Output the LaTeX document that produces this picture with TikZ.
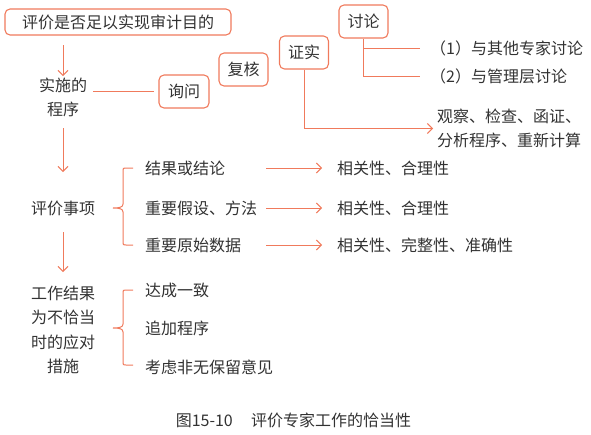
\documentclass[tikz,border=0pt]{standalone}
\usepackage{fontspec}
\setmainfont{Noto Sans CJK SC}
\usetikzlibrary{arrows.meta}
\definecolor{org}{RGB}{240,122,92}
\definecolor{txt}{RGB}{50,50,50}
\begin{document}
\begin{tikzpicture}[x=1pt,y=-1pt,
  box/.style={draw=org,line width=1.1pt,rounded corners=5pt,inner sep=0pt,minimum height=33pt,text=txt,font=\fontsize{16}{18}\selectfont},
  lbl/.style={text=txt,font=\fontsize{16}{24.5}\selectfont,inner sep=0pt},
  ln/.style={draw=org,line width=1pt},
  arr/.style={ln,-{Straight Barb[length=5pt,width=10pt]}}]
\useasboundingbox (0,0) rectangle (591,434);
% boxes
\node[box,minimum width=226pt,minimum height=26pt] (goal) at (118,22) {评价是否足以实现审计目的};
\node[box,minimum width=50pt] (xw) at (184,91.5) {询问};
\node[box,minimum width=49pt] (fh) at (243.5,69.5) {复核};
\node[box,minimum width=49pt] (zs) at (304,52.5) {证实};
\node[box,minimum width=49pt] (tl) at (363.5,21.5) {讨论};
% left column
\node[lbl,align=center] (ss) at (63,97.5) {实施的\\程序};
\node[lbl] (pj) at (63,208) {评价事项};
\node[lbl,align=center] (gz) at (63,330) {工作结果\\为不恰当\\时的应对\\措施};
% right texts
\node[lbl,anchor=west] (t1) at (430,48) {（1）与其他专家讨论};
\node[lbl,anchor=west] (t2) at (430,76) {（2）与管理层讨论};
\node[lbl,anchor=west,align=left] (gc) at (437,128.5) {观察、检查、函证、\\分析程序、重新计算};
\node[lbl,anchor=west] (r1) at (145,168) {结果或结论};
\node[lbl,anchor=west] (r2) at (145,208) {重要假设、方法};
\node[lbl,anchor=west] (r3) at (145,245) {重要原始数据};
\node[lbl,anchor=west] (a1) at (337,168) {相关性、合理性};
\node[lbl,anchor=west] (a2) at (337,208) {相关性、合理性};
\node[lbl,anchor=west] (a3) at (337,245) {相关性、完整性、准确性};
\node[lbl,anchor=west] (c1) at (145,290) {达成一致};
\node[lbl,anchor=west] (c2) at (145,328) {追加程序};
\node[lbl,anchor=west] (c3) at (145,367) {考虑非无保留意见};
\node[lbl] (cap) at (293.5,420) {图15-10\hspace{1.15em}评价专家工作的恰当性};
% arrow end points of the left column
\coordinate (v1s) at (63,45);
\coordinate (v1e) at (63,76);
\coordinate (v2s) at (63,128);
\coordinate (v2e) at (63,172);
\coordinate (v3s) at (63,232);
\coordinate (v3e) at (63,272);
% connectors
\draw[arr] (v1s) -- (v1e);
\draw[arr] (v2s) -- (v2e);
\draw[arr] (v3s) -- (v3e);
\draw[ln,shorten <=6pt,shorten >=4pt] (ss.east |- xw.west) -- (xw.west);
\draw[ln] (tl.south) |- ([xshift=-10pt]t2.west);
\draw[ln] (tl.south |- t1.west) -- ([xshift=-10pt]t1.west);
\draw[arr,shorten >=4pt] (zs.south) |- (gc.west);
\draw[arr,shorten <=9pt,shorten >=15pt] (r1.west -| r2.east) -- (a1.west);
\draw[arr,shorten <=9pt,shorten >=15pt] (r2.east) -- (a2.west);
\draw[arr,shorten <=9pt,shorten >=15pt] (r3.west -| r2.east) -- (a3.west);
% braces
\coordinate (bt1) at (133,168);
\coordinate (bm1) at (113,208);
\coordinate (bb1) at (133,245);
\draw[ln] (bt1) -- ++(-7,0) .. controls +(-3,0) and +(0,-3) .. ++(-3,3) -- (123,204) .. controls (123,207) and (120,208) .. (bm1)
  .. controls (120,208) and (123,209) .. (123,212) -- (123,242) .. controls +(0,3) and +(-3,0) .. ++(3,3) -- (bb1);
\coordinate (bt2) at (133,290);
\coordinate (bm2) at (113,328);
\coordinate (bb2) at (133,365);
\draw[ln] (bt2) -- ++(-7,0) .. controls +(-3,0) and +(0,-3) .. ++(-3,3) -- (123,324) .. controls (123,327) and (120,328) .. (bm2)
  .. controls (120,328) and (123,329) .. (123,332) -- (123,362) .. controls +(0,3) and +(-3,0) .. ++(3,3) -- (bb2);
\end{tikzpicture}
\end{document}
